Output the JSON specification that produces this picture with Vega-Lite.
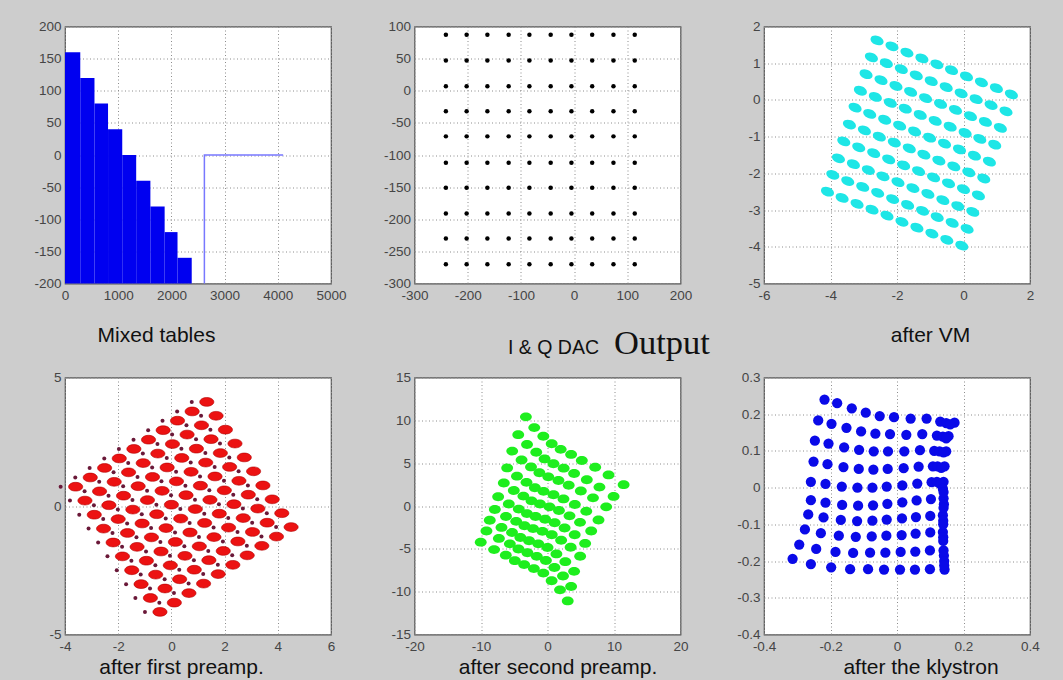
{
"$schema": "https://vega.github.io/schema/vega-lite/v6.json",
"background": "#cdcdcd",
"padding": {"left": 33, "top": 18.5, "right": 25, "bottom": 3},
"columns": 3,
"spacing": {"row": 94, "column": 83.5},
"bounds": "flush",
"datasets": {
"tables": [
{"x":0,"xe":287,"y":160,"yb":-200},{"x":287,"xe":554,"y":120,"yb":-200},{"x":554,"xe":809,"y":80,"yb":-200},{"x":809,"xe":1076,"y":40,"yb":-200},{"x":1076,"xe":1338,"y":0,"yb":-200},{"x":1338,"xe":1605,"y":-40,"yb":-200},{"x":1605,"xe":1873,"y":-80,"yb":-200},{"x":1873,"xe":2115,"y":-120,"yb":-200},{"x":2115,"xe":2382,"y":-160,"yb":-200}],
"tableLine": [{"x":2620,"y":-200,"seq":1},{"x":2620,"y":0,"seq":2},{"x":4100,"y":0,"seq":3}],
"dac": [
{"x":-241,"y":87},{"x":-202,"y":87},{"x":-163,"y":87},{"x":-123,"y":87},{"x":-84,"y":87},{"x":-44,"y":87},{"x":-5,"y":87},{"x":34,"y":87},{"x":74,"y":87},{"x":114,"y":87},
{"x":-241,"y":47},{"x":-202,"y":47},{"x":-163,"y":47},{"x":-123,"y":47},{"x":-84,"y":47},{"x":-44,"y":47},{"x":-5,"y":47},{"x":34,"y":47},{"x":74,"y":47},{"x":114,"y":47},
{"x":-241,"y":7},{"x":-202,"y":7},{"x":-163,"y":7},{"x":-123,"y":7},{"x":-84,"y":7},{"x":-44,"y":7},{"x":-5,"y":7},{"x":34,"y":7},{"x":74,"y":7},{"x":114,"y":7},
{"x":-241,"y":-32},{"x":-202,"y":-32},{"x":-163,"y":-32},{"x":-123,"y":-32},{"x":-84,"y":-32},{"x":-44,"y":-32},{"x":-5,"y":-32},{"x":34,"y":-32},{"x":74,"y":-32},{"x":114,"y":-32},
{"x":-241,"y":-71},{"x":-202,"y":-71},{"x":-163,"y":-71},{"x":-123,"y":-71},{"x":-84,"y":-71},{"x":-44,"y":-71},{"x":-5,"y":-71},{"x":34,"y":-71},{"x":74,"y":-71},{"x":114,"y":-71},
{"x":-241,"y":-112},{"x":-202,"y":-112},{"x":-163,"y":-112},{"x":-123,"y":-112},{"x":-84,"y":-112},{"x":-44,"y":-112},{"x":-5,"y":-112},{"x":34,"y":-112},{"x":74,"y":-112},{"x":114,"y":-112},
{"x":-241,"y":-151},{"x":-202,"y":-151},{"x":-163,"y":-151},{"x":-123,"y":-151},{"x":-84,"y":-151},{"x":-44,"y":-151},{"x":-5,"y":-151},{"x":34,"y":-151},{"x":74,"y":-151},{"x":114,"y":-151},
{"x":-241,"y":-191},{"x":-202,"y":-191},{"x":-163,"y":-191},{"x":-123,"y":-191},{"x":-84,"y":-191},{"x":-44,"y":-191},{"x":-5,"y":-191},{"x":34,"y":-191},{"x":74,"y":-191},{"x":114,"y":-191},
{"x":-241,"y":-230},{"x":-202,"y":-230},{"x":-163,"y":-230},{"x":-123,"y":-230},{"x":-84,"y":-230},{"x":-44,"y":-230},{"x":-5,"y":-230},{"x":34,"y":-230},{"x":74,"y":-230},{"x":114,"y":-230},
{"x":-241,"y":-270},{"x":-202,"y":-270},{"x":-163,"y":-270},{"x":-123,"y":-270},{"x":-84,"y":-270},{"x":-44,"y":-270},{"x":-5,"y":-270},{"x":34,"y":-270},{"x":74,"y":-270},{"x":114,"y":-270}],
"vm": [
{"x":-2.60,"y":1.62},{"x":-2.15,"y":1.46},{"x":-1.70,"y":1.29},{"x":-1.25,"y":1.13},{"x":-0.80,"y":0.97},{"x":-0.36,"y":0.81},{"x":0.09,"y":0.64},{"x":0.54,"y":0.48},{"x":0.99,"y":0.32},{"x":1.44,"y":0.15},
{"x":-2.77,"y":1.16},{"x":-2.32,"y":1.00},{"x":-1.87,"y":0.84},{"x":-1.42,"y":0.67},{"x":-0.97,"y":0.51},{"x":-0.52,"y":0.35},{"x":-0.07,"y":0.18},{"x":0.38,"y":0.02},{"x":0.83,"y":-0.14},{"x":1.28,"y":-0.31},
{"x":-2.93,"y":0.70},{"x":-2.48,"y":0.54},{"x":-2.03,"y":0.38},{"x":-1.59,"y":0.22},{"x":-1.14,"y":0.05},{"x":-0.69,"y":-0.11},{"x":-0.24,"y":-0.27},{"x":0.21,"y":-0.44},{"x":0.66,"y":-0.60},{"x":1.11,"y":-0.76},
{"x":-3.10,"y":0.25},{"x":-2.65,"y":0.08},{"x":-2.20,"y":-0.08},{"x":-1.75,"y":-0.24},{"x":-1.30,"y":-0.41},{"x":-0.85,"y":-0.57},{"x":-0.40,"y":-0.73},{"x":0.05,"y":-0.90},{"x":0.49,"y":-1.06},{"x":0.94,"y":-1.22},
{"x":-3.26,"y":-0.21},{"x":-2.82,"y":-0.38},{"x":-2.37,"y":-0.54},{"x":-1.92,"y":-0.70},{"x":-1.47,"y":-0.86},{"x":-1.02,"y":-1.03},{"x":-0.57,"y":-1.19},{"x":-0.12,"y":-1.35},{"x":0.33,"y":-1.52},{"x":0.78,"y":-1.68},
{"x":-3.43,"y":-0.67},{"x":-2.98,"y":-0.83},{"x":-2.53,"y":-1.00},{"x":-2.08,"y":-1.16},{"x":-1.63,"y":-1.32},{"x":-1.19,"y":-1.49},{"x":-0.74,"y":-1.65},{"x":-0.29,"y":-1.81},{"x":0.16,"y":-1.97},{"x":0.61,"y":-2.14},
{"x":-3.60,"y":-1.13},{"x":-3.15,"y":-1.29},{"x":-2.70,"y":-1.45},{"x":-2.25,"y":-1.62},{"x":-1.80,"y":-1.78},{"x":-1.35,"y":-1.94},{"x":-0.90,"y":-2.11},{"x":-0.45,"y":-2.27},{"x":0.00,"y":-2.43},{"x":0.45,"y":-2.60},
{"x":-3.76,"y":-1.59},{"x":-3.31,"y":-1.75},{"x":-2.86,"y":-1.91},{"x":-2.42,"y":-2.08},{"x":-1.97,"y":-2.24},{"x":-1.52,"y":-2.40},{"x":-1.07,"y":-2.56},{"x":-0.62,"y":-2.73},{"x":-0.17,"y":-2.89},{"x":0.28,"y":-3.05},
{"x":-3.93,"y":-2.04},{"x":-3.48,"y":-2.21},{"x":-3.03,"y":-2.37},{"x":-2.58,"y":-2.53},{"x":-2.13,"y":-2.70},{"x":-1.68,"y":-2.86},{"x":-1.23,"y":-3.02},{"x":-0.79,"y":-3.19},{"x":-0.34,"y":-3.35},{"x":0.11,"y":-3.51},
{"x":-4.09,"y":-2.50},{"x":-3.65,"y":-2.67},{"x":-3.20,"y":-2.83},{"x":-2.75,"y":-2.99},{"x":-2.30,"y":-3.15},{"x":-1.85,"y":-3.32},{"x":-1.40,"y":-3.48},{"x":-0.95,"y":-3.64},{"x":-0.50,"y":-3.81},{"x":-0.05,"y":-3.97}],
"pre1": [
{"x":1.33,"y":4.05},{"x":1.68,"y":3.51},{"x":2.03,"y":2.97},{"x":2.39,"y":2.43},{"x":2.74,"y":1.89},{"x":3.09,"y":1.35},{"x":3.44,"y":0.80},{"x":3.79,"y":0.26},{"x":4.15,"y":-0.28},{"x":4.50,"y":-0.82},
{"x":0.78,"y":3.68},{"x":1.13,"y":3.14},{"x":1.49,"y":2.60},{"x":1.84,"y":2.06},{"x":2.19,"y":1.52},{"x":2.54,"y":0.98},{"x":2.89,"y":0.44},{"x":3.25,"y":-0.10},{"x":3.60,"y":-0.65},{"x":3.95,"y":-1.19},
{"x":0.23,"y":3.32},{"x":0.59,"y":2.78},{"x":0.94,"y":2.23},{"x":1.29,"y":1.69},{"x":1.64,"y":1.15},{"x":1.99,"y":0.61},{"x":2.35,"y":0.07},{"x":2.70,"y":-0.47},{"x":3.05,"y":-1.01},{"x":3.40,"y":-1.55},
{"x":-0.31,"y":2.95},{"x":0.04,"y":2.41},{"x":0.39,"y":1.87},{"x":0.74,"y":1.33},{"x":1.09,"y":0.79},{"x":1.45,"y":0.24},{"x":1.80,"y":-0.30},{"x":2.15,"y":-0.84},{"x":2.50,"y":-1.38},{"x":2.85,"y":-1.92},
{"x":-0.86,"y":2.58},{"x":-0.51,"y":2.04},{"x":-0.16,"y":1.50},{"x":0.19,"y":0.96},{"x":0.55,"y":0.42},{"x":0.90,"y":-0.12},{"x":1.25,"y":-0.66},{"x":1.60,"y":-1.21},{"x":1.95,"y":-1.75},{"x":2.31,"y":-2.29},
{"x":-1.41,"y":2.22},{"x":-1.06,"y":1.67},{"x":-0.71,"y":1.13},{"x":-0.35,"y":0.59},{"x":0.00,"y":0.05},{"x":0.35,"y":-0.49},{"x":0.70,"y":-1.03},{"x":1.05,"y":-1.57},{"x":1.41,"y":-2.11},{"x":1.76,"y":-2.65},
{"x":-1.96,"y":1.85},{"x":-1.61,"y":1.31},{"x":-1.25,"y":0.77},{"x":-0.90,"y":0.23},{"x":-0.55,"y":-0.32},{"x":-0.20,"y":-0.86},{"x":0.15,"y":-1.40},{"x":0.51,"y":-1.94},{"x":0.86,"y":-2.48},{"x":1.21,"y":-3.02},
{"x":-2.51,"y":1.48},{"x":-2.15,"y":0.94},{"x":-1.80,"y":0.40},{"x":-1.45,"y":-0.14},{"x":-1.10,"y":-0.68},{"x":-0.75,"y":-1.22},{"x":-0.39,"y":-1.77},{"x":-0.04,"y":-2.31},{"x":0.31,"y":-2.85},{"x":0.66,"y":-3.39},
{"x":-3.05,"y":1.11},{"x":-2.70,"y":0.57},{"x":-2.35,"y":0.03},{"x":-2.00,"y":-0.51},{"x":-1.65,"y":-1.05},{"x":-1.29,"y":-1.59},{"x":-0.94,"y":-2.13},{"x":-0.59,"y":-2.67},{"x":-0.24,"y":-3.21},{"x":0.11,"y":-3.76},
{"x":-3.60,"y":0.75},{"x":-3.25,"y":0.21},{"x":-2.90,"y":-0.34},{"x":-2.55,"y":-0.88},{"x":-2.19,"y":-1.42},{"x":-1.84,"y":-1.96},{"x":-1.49,"y":-2.50},{"x":-1.14,"y":-3.04},{"x":-0.79,"y":-3.58},{"x":-0.43,"y":-4.12}],
"pre2": [
{"x":-3.25,"y":10.41},{"x":-1.99,"y":9.15},{"x":-0.63,"y":8.14},{"x":0.63,"y":7.27},{"x":1.98,"y":6.61},{"x":3.55,"y":6.02},{"x":5.16,"y":5.31},{"x":7.17,"y":4.53},{"x":9.18,"y":3.63},{"x":11.45,"y":2.49},
{"x":-4.40,"y":8.33},{"x":-3.08,"y":7.18},{"x":-1.69,"y":6.28},{"x":-0.44,"y":5.50},{"x":0.89,"y":4.93},{"x":2.43,"y":4.42},{"x":4.00,"y":3.79},{"x":5.91,"y":3.06},{"x":7.81,"y":2.21},{"x":9.94,"y":1.12},
{"x":-5.31,"y":6.41},{"x":-3.90,"y":5.37},{"x":-2.48,"y":4.56},{"x":-1.22,"y":3.88},{"x":0.12,"y":3.40},{"x":1.65,"y":2.97},{"x":3.19,"y":2.42},{"x":5.01,"y":1.75},{"x":6.84,"y":0.95},{"x":8.83,"y":-0.10},
{"x":-6.06,"y":4.45},{"x":-4.59,"y":3.48},{"x":-3.16,"y":2.76},{"x":-1.90,"y":2.13},{"x":-0.59,"y":1.71},{"x":0.90,"y":1.32},{"x":2.40,"y":0.83},{"x":4.11,"y":0.18},{"x":5.83,"y":-0.61},{"x":7.67,"y":-1.63},
{"x":-6.57,"y":2.69},{"x":-5.07,"y":1.81},{"x":-3.63,"y":1.16},{"x":-2.41,"y":0.60},{"x":-1.13,"y":0.24},{"x":0.29,"y":-0.10},{"x":1.72,"y":-0.52},{"x":3.31,"y":-1.15},{"x":4.89,"y":-1.91},{"x":6.57,"y":-2.92},
{"x":-7.42,"y":1.08},{"x":-5.82,"y":0.24},{"x":-4.32,"y":-0.36},{"x":-3.09,"y":-0.89},{"x":-1.79,"y":-1.23},{"x":-0.36,"y":-1.55},{"x":1.07,"y":-1.95},{"x":2.57,"y":-2.57},{"x":4.09,"y":-3.36},{"x":5.66,"y":-4.37},
{"x":-7.92,"y":-0.41},{"x":-6.24,"y":-1.22},{"x":-4.71,"y":-1.79},{"x":-3.47,"y":-2.31},{"x":-2.17,"y":-2.64},{"x":-0.76,"y":-2.96},{"x":0.64,"y":-3.35},{"x":2.05,"y":-4.00},{"x":3.48,"y":-4.82},{"x":4.91,"y":-5.86},
{"x":-8.68,"y":-1.67},{"x":-6.92,"y":-2.50},{"x":-5.34,"y":-3.10},{"x":-4.08,"y":-3.67},{"x":-2.77,"y":-4.05},{"x":-1.38,"y":-4.42},{"x":0.00,"y":-4.85},{"x":1.34,"y":-5.59},{"x":2.68,"y":-6.50},{"x":4.00,"y":-7.63},
{"x":-9.18,"y":-2.92},{"x":-7.31,"y":-3.78},{"x":-5.66,"y":-4.42},{"x":-4.37,"y":-5.02},{"x":-3.02,"y":-5.45},{"x":-1.61,"y":-5.88},{"x":-0.24,"y":-6.36},{"x":1.04,"y":-7.18},{"x":2.33,"y":-8.17},{"x":3.55,"y":-9.39},
{"x":-10.04,"y":-4.22},{"x":-8.03,"y":-5.09},{"x":-6.27,"y":-5.74},{"x":-4.91,"y":-6.38},{"x":-3.51,"y":-6.84},{"x":-2.05,"y":-7.31},{"x":-0.63,"y":-7.83},{"x":0.62,"y":-8.72},{"x":1.88,"y":-9.79},{"x":3.04,"y":-11.08}],
"kly": [
{"x":-0.218,"y":0.240},{"x":-0.180,"y":0.230},{"x":-0.136,"y":0.216},{"x":-0.094,"y":0.204},{"x":-0.052,"y":0.195},{"x":-0.009,"y":0.192},{"x":0.041,"y":0.188},{"x":0.089,"y":0.188},{"x":0.130,"y":0.180},{"x":0.173,"y":0.177},
{"x":-0.237,"y":0.183},{"x":-0.197,"y":0.174},{"x":-0.152,"y":0.163},{"x":-0.108,"y":0.153},{"x":-0.065,"y":0.147},{"x":-0.021,"y":0.146},{"x":0.028,"y":0.144},{"x":0.076,"y":0.146},{"x":0.120,"y":0.142},{"x":0.155,"y":0.140},
{"x":-0.247,"y":0.128},{"x":-0.206,"y":0.120},{"x":-0.159,"y":0.110},{"x":-0.114,"y":0.103},{"x":-0.070,"y":0.099},{"x":-0.027,"y":0.099},{"x":0.022,"y":0.099},{"x":0.069,"y":0.102},{"x":0.112,"y":0.100},{"x":0.148,"y":0.099},
{"x":-0.251,"y":0.071},{"x":-0.209,"y":0.064},{"x":-0.161,"y":0.056},{"x":-0.115,"y":0.051},{"x":-0.071,"y":0.049},{"x":-0.028,"y":0.051},{"x":0.020,"y":0.053},{"x":0.065,"y":0.057},{"x":0.108,"y":0.058},{"x":0.143,"y":0.058},
{"x":-0.259,"y":0.016},{"x":-0.215,"y":0.010},{"x":-0.166,"y":0.003},{"x":-0.119,"y":0.000},{"x":-0.074,"y":0.000},{"x":-0.031,"y":0.003},{"x":0.016,"y":0.006},{"x":0.061,"y":0.011},{"x":0.104,"y":0.015},{"x":0.140,"y":0.016},
{"x":-0.259,"y":-0.034},{"x":-0.215,"y":-0.041},{"x":-0.165,"y":-0.047},{"x":-0.117,"y":-0.049},{"x":-0.072,"y":-0.048},{"x":-0.029,"y":-0.044},{"x":0.016,"y":-0.040},{"x":0.059,"y":-0.035},{"x":0.102,"y":-0.031},{"x":0.140,"y":-0.029},
{"x":-0.267,"y":-0.073},{"x":-0.221,"y":-0.081},{"x":-0.169,"y":-0.088},{"x":-0.120,"y":-0.091},{"x":-0.074,"y":-0.090},{"x":-0.031,"y":-0.087},{"x":0.015,"y":-0.084},{"x":0.057,"y":-0.080},{"x":0.100,"y":-0.077},{"x":0.138,"y":-0.075},
{"x":-0.277,"y":-0.114},{"x":-0.229,"y":-0.124},{"x":-0.175,"y":-0.131},{"x":-0.124,"y":-0.134},{"x":-0.076,"y":-0.133},{"x":-0.032,"y":-0.131},{"x":0.014,"y":-0.129},{"x":0.056,"y":-0.125},{"x":0.100,"y":-0.122},{"x":0.138,"y":-0.121},
{"x":-0.294,"y":-0.155},{"x":-0.243,"y":-0.167},{"x":-0.185,"y":-0.175},{"x":-0.132,"y":-0.178},{"x":-0.081,"y":-0.177},{"x":-0.035,"y":-0.177},{"x":0.011,"y":-0.175},{"x":0.055,"y":-0.174},{"x":0.099,"y":-0.171},{"x":0.140,"y":-0.171},
{"x":-0.314,"y":-0.194},{"x":-0.259,"y":-0.208},{"x":-0.198,"y":-0.217},{"x":-0.141,"y":-0.222},{"x":-0.087,"y":-0.222},{"x":-0.039,"y":-0.223},{"x":0.009,"y":-0.223},{"x":0.054,"y":-0.223},{"x":0.099,"y":-0.222},{"x":0.143,"y":-0.223},
{"x":0.148,"y":0.176},{"x":0.160,"y":0.172},{"x":0.138,"y":0.139},{"x":0.148,"y":0.134},{"x":0.128,"y":0.099},{"x":0.140,"y":0.096},{"x":0.122,"y":0.058},{"x":0.133,"y":0.054},{"x":0.120,"y":0.016},{"x":0.130,"y":0.010},
{"x":0.138,"y":-0.003},{"x":0.140,"y":-0.012},{"x":0.141,"y":-0.045},{"x":0.140,"y":-0.055},{"x":0.139,"y":-0.090},{"x":0.139,"y":-0.100},{"x":0.139,"y":-0.135},{"x":0.139,"y":-0.145},{"x":0.141,"y":-0.185},{"x":0.142,"y":-0.200},{"x":0.142,"y":-0.212}]
},
"concat": [
{
"width": 266, "height": 257,
"encoding": {
  "x": {"field": "x", "type": "quantitative", "scale": {"domain": [0, 5000], "nice": false, "zero": false},
        "axis": {"values": [0,1000,2000,3000,4000,5000], "labelExpr": "'' + datum.value", "labelOverlap": false, "title": "Mixed tables", "titleX": 91, "titleY": 58}},
  "y": {"field": "y", "type": "quantitative", "scale": {"domain": [-200, 200], "nice": false, "zero": false},
        "axis": {"values": [-200,-150,-100,-50,0,50,100,150,200], "labelExpr": "'' + datum.value", "labelOverlap": false, "title": null}}
},
"layer": [
{"data": {"name": "tables"},
 "mark": {"type": "rect", "color": "#0000f0"},
 "encoding": {"x2": {"field": "xe"}, "y2": {"field": "yb"}}},
{"data": {"name": "tableLine"},
 "mark": {"type": "line", "color": "#7878ff", "strokeWidth": 1.5},
 "encoding": {"order": {"field": "seq"}}}
]
},
{
"width": 266, "height": 257,
"data": {"name": "dac"},
"mark": {"type": "point", "filled": true, "color": "#000000", "size": 20, "opacity": 1},
"encoding": {
 "x": {"field": "x", "type": "quantitative", "scale": {"domain": [-300, 200], "nice": false, "zero": false},
       "axis": {"values": [-300,-200,-100,0,100,200], "labelExpr": "'' + datum.value", "title": "I & Q DAC", "titleX": 138.5, "titleY": 70, "titleFontSize": 19.5}},
 "y": {"field": "y", "type": "quantitative", "scale": {"domain": [-300, 100], "nice": false, "zero": false},
       "axis": {"values": [-300,-250,-200,-150,-100,-50,0,50,100], "labelExpr": "'' + datum.value", "title": null}}
},
"title": {"text": "Output", "orient": "bottom", "anchor": "start", "frame": "group", "offset": -3, "baseline": "alphabetic", "font": "Liberation Serif", "fontSize": 34.5, "fontWeight": "normal", "color": "#111111", "dx": 199.5}
},
{
"width": 266, "height": 257,
"data": {"name": "vm"},
"mark": {"type": "point", "filled": true, "color": "#1ee6e6", "size": 185, "opacity": 1, "angle": 22, "shape": "M -1 0 A 1 0.66 0 1 0 1 0 A 1 0.66 0 1 0 -1 0 Z"},
"encoding": {
 "x": {"field": "x", "type": "quantitative", "scale": {"domain": [-6, 2], "nice": false, "zero": false},
       "axis": {"values": [-6,-4,-2,0,2], "labelExpr": "'' + datum.value", "title": "after VM", "titleX": 166, "titleY": 58}},
 "y": {"field": "y", "type": "quantitative", "scale": {"domain": [-5, 2], "nice": false, "zero": false},
       "axis": {"values": [-5,-4,-3,-2,-1,0,1,2], "labelExpr": "'' + datum.value", "title": null}}
}
},
{
"width": 266, "height": 257,
"data": {"name": "pre1"},
"encoding": {
 "x": {"field": "x", "type": "quantitative", "scale": {"domain": [-4, 6], "nice": false, "zero": false},
       "axis": {"values": [-4,-2,0,2,4,6], "labelExpr": "'' + datum.value", "title": "after first preamp.", "titleX": 116, "titleY": 39}},
 "y": {"field": "y", "type": "quantitative", "scale": {"domain": [-5, 5], "nice": false, "zero": false},
       "axis": {"values": [-5,0,5], "labelExpr": "'' + datum.value", "title": null}}
},
"layer": [
 {"mark": {"type": "point", "filled": true, "color": "#ec1212", "size": 200, "opacity": 1, "stroke": "#b00000", "strokeWidth": 0.6, "shape": "M -1 0 A 1 0.62 0 1 0 1 0 A 1 0.62 0 1 0 -1 0 Z"}},
 {"mark": {"type": "point", "filled": true, "color": "#6a1838", "size": 16, "opacity": 1, "xOffset": -15}}
]
},
{
"width": 266, "height": 257,
"data": {"name": "pre2"},
"mark": {"type": "point", "filled": true, "color": "#1eee1e", "size": 140, "opacity": 1, "shape": "M -1 0 A 1 0.75 0 1 0 1 0 A 1 0.75 0 1 0 -1 0 Z"},
"encoding": {
 "x": {"field": "x", "type": "quantitative", "scale": {"domain": [-20, 20], "nice": false, "zero": false},
       "axis": {"values": [-20,-10,0,10,20], "labelExpr": "'' + datum.value", "title": "after second preamp.", "titleX": 143, "titleY": 39}},
 "y": {"field": "y", "type": "quantitative", "scale": {"domain": [-15, 15], "nice": false, "zero": false},
       "axis": {"values": [-15,-10,-5,0,5,10,15], "labelExpr": "'' + datum.value", "title": null}}
}
},
{
"width": 266, "height": 257,
"data": {"name": "kly"},
"mark": {"type": "point", "filled": true, "color": "#0a0ae8", "size": 105, "opacity": 1},
"encoding": {
 "x": {"field": "x", "type": "quantitative", "scale": {"domain": [-0.4, 0.4], "nice": false, "zero": false},
       "axis": {"values": [-0.4,-0.2,0,0.2,0.4], "labelExpr": "'' + datum.value", "title": "after the klystron", "titleX": 156.5, "titleY": 39}},
 "y": {"field": "y", "type": "quantitative", "scale": {"domain": [-0.4, 0.3], "nice": false, "zero": false},
       "axis": {"values": [-0.4,-0.3,-0.2,-0.1,0,0.1,0.2,0.3], "labelExpr": "'' + datum.value", "title": null}}
}
}
],
"config": {
 "view": {"stroke": "#555555", "strokeWidth": 1.2, "fill": "#ffffff"},
 "axis": {"grid": true, "gridColor": "#8c8c8c", "gridDash": [1, 2.5], "gridWidth": 1, "gridOpacity": 1, "domain": false, "ticks": false,
          "labelFont": "Liberation Sans", "labelFontSize": 13.5, "labelColor": "#454545", "labelFlush": false, "labelOverlap": false,
          "titleFont": "Liberation Sans", "titleFontSize": 21, "titleFontWeight": "normal", "titleColor": "#111111", "titleBaseline": "alphabetic", "titleAlign": "center", "titleAngle": 0},
 "axisX": {"labelPadding": 5},
 "axisY": {"labelPadding": 4}
}
}
